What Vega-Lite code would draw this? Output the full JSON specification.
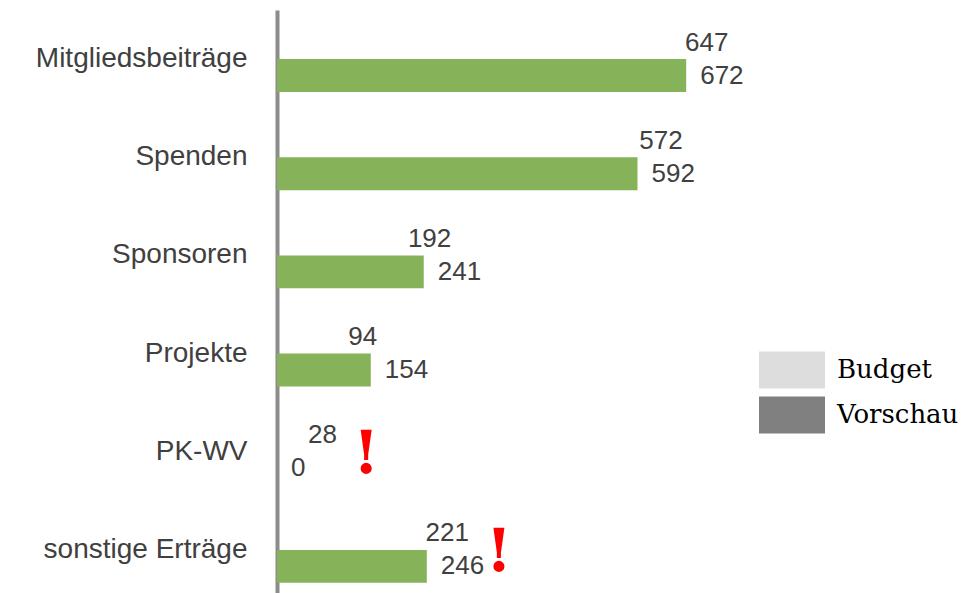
{
  "$schema": "https://vega.github.io/schema/vega-lite/v6.json",
  "width": 450,
  "height": 583,
  "autosize": {"type": "none"},
  "padding": {"left": 277, "top": 10, "right": 244, "bottom": 0},
  "background": "white",
  "config": {"view": {"stroke": null}},
  "data": {
    "values": [
      {"cat": "Mitgliedsbeiträge", "series": "Budget", "value": 647, "alert": false},
      {"cat": "Mitgliedsbeiträge", "series": "Vorschau", "value": 672, "alert": false},
      {"cat": "Spenden", "series": "Budget", "value": 572, "alert": false},
      {"cat": "Spenden", "series": "Vorschau", "value": 592, "alert": false},
      {"cat": "Sponsoren", "series": "Budget", "value": 192, "alert": false},
      {"cat": "Sponsoren", "series": "Vorschau", "value": 241, "alert": false},
      {"cat": "Projekte", "series": "Budget", "value": 94, "alert": false},
      {"cat": "Projekte", "series": "Vorschau", "value": 154, "alert": false},
      {"cat": "PK-WV", "series": "Budget", "value": 28, "alert": true},
      {"cat": "PK-WV", "series": "Vorschau", "value": 0, "alert": true},
      {"cat": "sonstige Erträge", "series": "Budget", "value": 221, "alert": true},
      {"cat": "sonstige Erträge", "series": "Vorschau", "value": 246, "alert": true}
    ]
  },
  "encoding": {
    "y": {
      "field": "cat",
      "type": "nominal",
      "sort": null,
      "scale": {"range": [0, 589], "paddingInner": 0.33, "paddingOuter": 0.165},
      "axis": {
        "title": null,
        "domainColor": "#8c8c8c",
        "domainWidth": 4,
        "ticks": false,
        "grid": false,
        "labelPadding": 30,
        "labelFont": "Liberation Sans",
        "labelFontSize": 28,
        "labelColor": "#404040",
        "labelLimit": 300
      }
    },
    "x": {
      "field": "value",
      "type": "quantitative",
      "scale": {"domain": [0, 739], "nice": false},
      "axis": null
    }
  },
  "layer": [
    {
      "mark": {"type": "bar", "opacity": 0},
      "encoding": {
        "yOffset": {"field": "series", "type": "nominal", "scale": {"domain": ["Budget", "Vorschau"], "paddingInner": 0, "paddingOuter": 0}},
        "color": {
          "field": "series",
          "type": "nominal",
          "scale": {"domain": ["Budget", "Vorschau"], "range": ["#dddddd", "#808080"]},
          "legend": {
            "orient": "none",
            "legendX": 493,
            "legendY": 338,
            "title": null,
            "symbolType": "M-1.5,-0.84L1.5,-0.84L1.5,0.84L-1.5,0.84Z",
            "symbolSize": 1936,
            "symbolOpacity": 1,
            "symbolStrokeWidth": 0,
            "labelFont": "DejaVu Serif",
            "labelFontSize": 26,
            "labelColor": "#000000",
            "labelOffset": 23,
            "rowPadding": 4,
            "padding": 0
          }
        }
      }
    },
    {
      "transform": [{"filter": "datum.series === 'Vorschau'"}],
      "mark": {"type": "bar", "color": "#86b25a"},
      "encoding": {
        "yOffset": {"field": "series", "type": "nominal", "scale": {"domain": ["Budget", "Vorschau"]}}
      }
    },
    {
      "mark": {"type": "text", "align": "left", "baseline": "middle", "dx": 14, "font": "Liberation Sans", "fontSize": 26, "color": "#404040"},
      "encoding": {
        "yOffset": {"field": "series", "type": "nominal", "scale": {"domain": ["Budget", "Vorschau"]}},
        "text": {"field": "value", "type": "quantitative"}
      }
    },
    {
      "transform": [
        {"filter": "datum.alert"},
        {"aggregate": [{"op": "max", "field": "value", "as": "value"}], "groupby": ["cat"]}
      ],
      "mark": {"type": "text", "text": "!", "color": "#ff0000", "fontWeight": "bold", "font": "DejaVu Serif", "fontSize": 60, "dx": 72, "dy": 3, "align": "center", "baseline": "middle"},
      "encoding": {}
    }
  ]
}
